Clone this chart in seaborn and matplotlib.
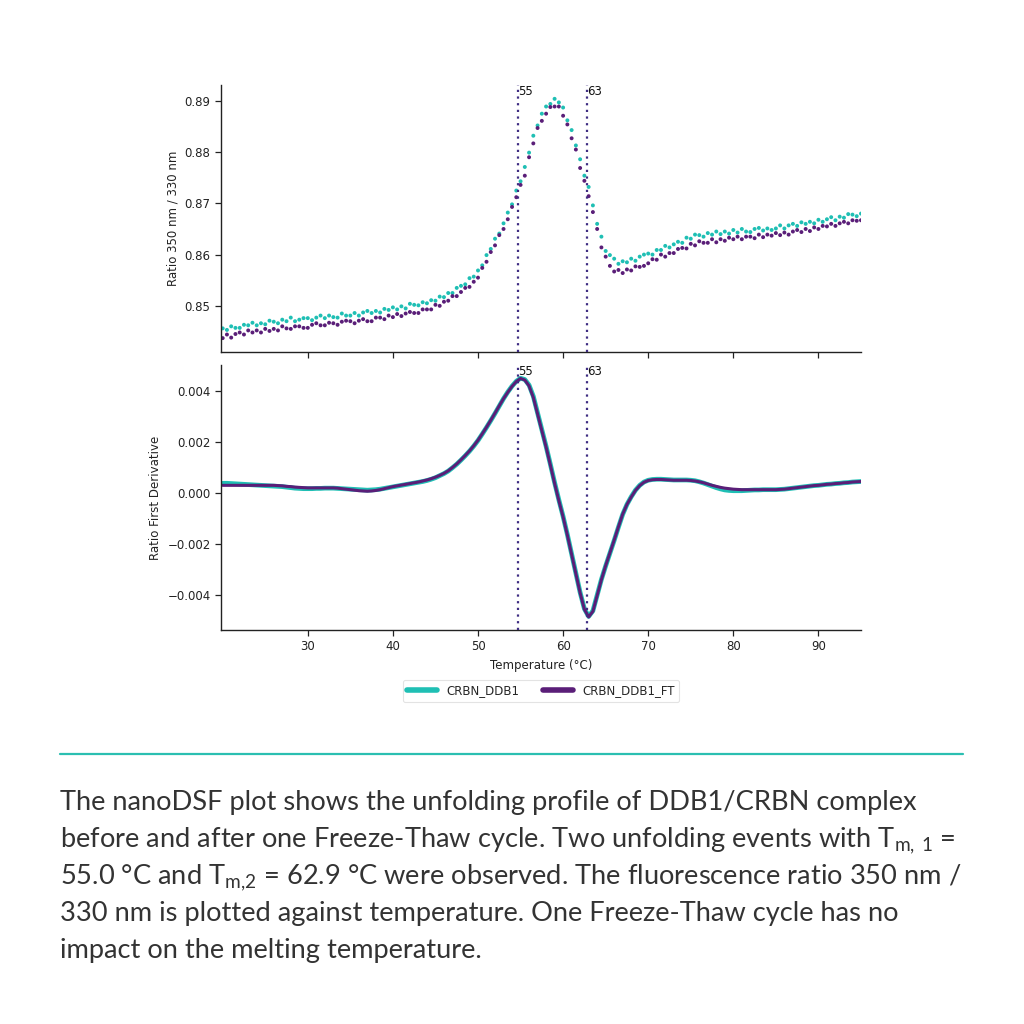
import numpy as np
import pandas as pd
import matplotlib
matplotlib.use("Agg")
import matplotlib.pyplot as plt
import seaborn as sns
from matplotlib.ticker import FuncFormatter

# ---------------- data ----------------
series_names = ["CRBN_DDB1", "CRBN_DDB1_FT"]
temperature = np.round(np.arange(20.0, 95.01, 0.5), 1)  # °C grid, 151 points

ratio_ddb1 = [
    0.8456, 0.8453, 0.8460, 0.8457, 0.8457, 0.8463, 0.8462, 0.8467, 0.8462, 0.8466,
    0.8464, 0.8471, 0.8469, 0.8466, 0.8473, 0.8470, 0.8477, 0.8470, 0.8473, 0.8476,
    0.8476, 0.8472, 0.8477, 0.8481, 0.8476, 0.8481, 0.8478, 0.8477, 0.8485, 0.8481,
    0.8481, 0.8486, 0.8481, 0.8487, 0.8490, 0.8486, 0.8490, 0.8487, 0.8494, 0.8492,
    0.8497, 0.8493, 0.8499, 0.8495, 0.8504, 0.8502, 0.8501, 0.8507, 0.8505, 0.8511,
    0.8510, 0.8518, 0.8517, 0.8525, 0.8525, 0.8535, 0.8539, 0.8542, 0.8554, 0.8557,
    0.8569, 0.8579, 0.8599, 0.8611, 0.8631, 0.8641, 0.8661, 0.8682, 0.8698, 0.8725,
    0.8743, 0.8771, 0.8799, 0.8832, 0.8852, 0.8875, 0.8889, 0.8894, 0.8904, 0.8897,
    0.8887, 0.8862, 0.8843, 0.8813, 0.8786, 0.8754, 0.8732, 0.8696, 0.8660, 0.8635,
    0.8607, 0.8599, 0.8592, 0.8582, 0.8587, 0.8585, 0.8592, 0.8588, 0.8596, 0.8600,
    0.8602, 0.8600, 0.8609, 0.8609, 0.8617, 0.8614, 0.8620, 0.8625, 0.8623, 0.8633,
    0.8631, 0.8639, 0.8638, 0.8635, 0.8642, 0.8639, 0.8645, 0.8640, 0.8645, 0.8641,
    0.8648, 0.8643, 0.8650, 0.8645, 0.8644, 0.8650, 0.8652, 0.8647, 0.8651, 0.8648,
    0.8651, 0.8657, 0.8651, 0.8657, 0.8660, 0.8656, 0.8663, 0.8660, 0.8664, 0.8661,
    0.8668, 0.8664, 0.8669, 0.8673, 0.8667, 0.8674, 0.8672, 0.8679, 0.8678, 0.8675,
    0.8680,
]

ratio_ddb1_ft = [
    0.8437, 0.8444, 0.8438, 0.8445, 0.8448, 0.8444, 0.8452, 0.8448, 0.8452, 0.8448,
    0.8455, 0.8451, 0.8455, 0.8452, 0.8460, 0.8456, 0.8455, 0.8460, 0.8460, 0.8457,
    0.8457, 0.8463, 0.8466, 0.8462, 0.8462, 0.8467, 0.8466, 0.8463, 0.8469, 0.8471,
    0.8470, 0.8466, 0.8471, 0.8474, 0.8470, 0.8470, 0.8477, 0.8477, 0.8474, 0.8481,
    0.8478, 0.8484, 0.8480, 0.8485, 0.8488, 0.8486, 0.8486, 0.8493, 0.8493, 0.8493,
    0.8502, 0.8500, 0.8508, 0.8510, 0.8519, 0.8519, 0.8527, 0.8535, 0.8537, 0.8547,
    0.8555, 0.8574, 0.8586, 0.8605, 0.8618, 0.8638, 0.8650, 0.8669, 0.8693, 0.8712,
    0.8736, 0.8754, 0.8790, 0.8817, 0.8847, 0.8861, 0.8875, 0.8888, 0.8889, 0.8889,
    0.8871, 0.8854, 0.8827, 0.8805, 0.8769, 0.8744, 0.8714, 0.8683, 0.8650, 0.8614,
    0.8596, 0.8578, 0.8567, 0.8570, 0.8564, 0.8571, 0.8569, 0.8577, 0.8576, 0.8578,
    0.8583, 0.8591, 0.8590, 0.8600, 0.8596, 0.8603, 0.8603, 0.8611, 0.8613, 0.8612,
    0.8621, 0.8618, 0.8626, 0.8623, 0.8623, 0.8630, 0.8624, 0.8630, 0.8627, 0.8633,
    0.8630, 0.8635, 0.8630, 0.8635, 0.8635, 0.8632, 0.8639, 0.8634, 0.8639, 0.8637,
    0.8642, 0.8638, 0.8643, 0.8639, 0.8645, 0.8648, 0.8644, 0.8650, 0.8646, 0.8653,
    0.8650, 0.8656, 0.8655, 0.8660, 0.8656, 0.8661, 0.8664, 0.8661, 0.8667, 0.8666,
    0.8667,
]

# first derivative, in units of 1e-4
deriv_ddb1_e4 = [
    3.8, 3.8, 3.7, 3.6, 3.5, 3.4, 3.3, 3.2, 3.1, 3.0,
    2.9, 2.8, 2.7, 2.6, 2.5, 2.3, 2.1, 1.9, 1.8, 1.7,
    1.7, 1.7, 1.8, 1.8, 1.9, 1.9, 1.9, 1.8, 1.7, 1.6,
    1.5, 1.4, 1.3, 1.2, 1.1, 1.2, 1.3, 1.5, 1.8, 2.1,
    2.4, 2.7, 3.0, 3.3, 3.6, 3.9, 4.2, 4.5, 4.9, 5.4,
    6.0, 6.8, 7.6, 8.6, 9.9, 11.3, 12.9, 14.6, 16.4, 18.4,
    20.6, 23.1, 25.7, 28.4, 31.2, 34.1, 37.0, 39.6, 41.9, 43.8,
    45.0, 44.5, 42.3, 37.9, 31.4, 24.9, 18.3, 11.3, 4.1, -2.7,
    -9.2, -16.3, -23.8, -31.4, -39.0, -45.4, -48.4, -46.2, -40.0, -33.9,
    -28.6, -23.6, -18.6, -13.4, -8.4, -4.5, -1.5, 1.1, 3.0, 4.3,
    5.0, 5.3, 5.4, 5.4, 5.3, 5.2, 5.1, 5.1, 5.1, 5.1,
    5.0, 4.8, 4.4, 3.9, 3.3, 2.7, 2.1, 1.6, 1.2, 1.0,
    0.9, 0.9, 0.9, 1.0, 1.1, 1.2, 1.2, 1.3, 1.3, 1.3,
    1.3, 1.4, 1.5, 1.7, 1.9, 2.1, 2.3, 2.5, 2.7, 2.9,
    3.0, 3.2, 3.4, 3.5, 3.7, 3.8, 4.0, 4.1, 4.3, 4.4,
    4.5,
]

deriv_ddb1_ft_e4 = [
    3.0, 3.0, 3.0, 3.0, 3.0, 3.0, 3.0, 3.0, 3.0, 3.0,
    3.0, 3.0, 3.0, 2.9, 2.8, 2.6, 2.5, 2.3, 2.2, 2.1,
    2.0, 2.0, 2.0, 2.0, 2.0, 2.0, 2.0, 1.9, 1.7, 1.5,
    1.3, 1.1, 0.9, 0.8, 0.7, 0.8, 1.0, 1.3, 1.7, 2.1,
    2.5, 2.8, 3.1, 3.4, 3.7, 4.0, 4.3, 4.7, 5.1, 5.6,
    6.2, 6.9, 7.7, 8.7, 10.0, 11.4, 13.0, 14.7, 16.5, 18.5,
    20.7, 23.2, 25.8, 28.5, 31.3, 34.2, 37.0, 39.5, 41.8, 43.7,
    44.9, 44.3, 42.0, 37.5, 31.0, 24.5, 18.0, 11.0, 3.8, -3.0,
    -9.4, -16.5, -24.0, -31.6, -39.2, -45.6, -48.6, -46.4, -40.2, -34.0,
    -28.5, -23.5, -18.5, -13.3, -8.3, -4.5, -1.6, 1.0, 2.9, 4.2,
    4.9, 5.2, 5.3, 5.3, 5.2, 5.1, 5.0, 5.0, 5.0, 5.0,
    4.9, 4.7, 4.4, 4.0, 3.5, 3.0, 2.6, 2.2, 1.9, 1.7,
    1.5, 1.4, 1.3, 1.3, 1.3, 1.3, 1.3, 1.3, 1.3, 1.3,
    1.3, 1.4, 1.5, 1.7, 1.9, 2.1, 2.3, 2.5, 2.7, 2.9,
    3.0, 3.2, 3.4, 3.5, 3.7, 3.8, 4.0, 4.1, 4.3, 4.4,
    4.5,
]

tm_values = [54.7, 62.75]
tm_labels = ["55", "63"]

caption_lines = [
    "The nanoDSF plot shows the unfolding profile of DDB1/CRBN complex",
    r"before and after one Freeze-Thaw cycle. Two unfolding events with T$_{\mathregular{m,\,1}}$ =",
    r"55.0 °C and T$_{\mathregular{m{,}2}}$ = 62.9 °C were observed. The fluorescence ratio 350 nm /",
    "330 nm is plotted against temperature. One Freeze-Thaw cycle has no",
    "impact on the melting temperature.",
]

# ---------------- styling ----------------
CYAN = "#1fbfb4"
PURPLE = "#5a1e78"
VLINE = "#3f2d82"

sns.set_theme(style="ticks")
plt.rcParams["font.family"] = ["DejaVu Sans"]
plt.rcParams["mathtext.fontset"] = "custom"
plt.rcParams["mathtext.rm"] = "Lato"

n = len(temperature)
df_ratio = pd.DataFrame({
    "Temperature": np.concatenate([temperature, temperature]),
    "Ratio": np.concatenate([ratio_ddb1, ratio_ddb1_ft]),
    "Sample": [series_names[0]] * n + [series_names[1]] * n,
})
df_deriv = pd.DataFrame({
    "Temperature": np.concatenate([temperature, temperature]),
    "Deriv": np.concatenate([np.array(deriv_ddb1_e4), np.array(deriv_ddb1_ft_e4)]) * 1e-4,
    "Sample": [series_names[0]] * n + [series_names[1]] * n,
})
palette = {series_names[0]: CYAN, series_names[1]: PURPLE}

fig = plt.figure(figsize=(10.24, 10.24), dpi=100)
ax1 = fig.add_axes([0.2158, 0.6563, 0.625, 0.2607])
ax2 = fig.add_axes([0.2158, 0.3848, 0.625, 0.2588], sharex=ax1)

sns.scatterplot(data=df_ratio, x="Temperature", y="Ratio", hue="Sample",
                palette=palette, s=8, linewidth=0, ax=ax1, legend=False)

sns.lineplot(data=df_deriv[df_deriv.Sample == series_names[0]], x="Temperature", y="Deriv",
             color=CYAN, linewidth=3.4, ax=ax2, label=series_names[0])
sns.lineplot(data=df_deriv[df_deriv.Sample == series_names[1]], x="Temperature", y="Deriv",
             color=PURPLE, linewidth=2.2, ax=ax2, label=series_names[1])
for ln in ax2.get_lines():
    ln.set_solid_joinstyle("round")

ax1.set_xlim(19.8, 95.0)
ax1.set_ylim(0.8410, 0.8931)
ax2.set_ylim(-0.00537, 0.00502)
ax1.set_yticks([0.85, 0.86, 0.87, 0.88, 0.89])
ax2.set_yticks([-0.004, -0.002, 0.0, 0.002, 0.004])
ax2.set_xticks([30, 40, 50, 60, 70, 80, 90])
ax1.yaxis.set_major_formatter(FuncFormatter(lambda v, p: f"{v:.2f}"))
ax2.yaxis.set_major_formatter(FuncFormatter(lambda v, p: f"{v:.3f}".replace("-", "\u2212")))
ax1.tick_params(axis="x", labelbottom=False)

for ax in (ax1, ax2):
    sns.despine(ax=ax)
    ax.tick_params(labelsize=8.5, length=4, width=0.9, colors="#222222")
    for sp in ("left", "bottom"):
        ax.spines[sp].set_color("#222222")
        ax.spines[sp].set_linewidth(1.0)
    ytop = ax.get_ylim()[1]
    for tm, lab in zip(tm_values, tm_labels):
        ax.axvline(tm, color=VLINE, linestyle=(0, (1, 2)), linewidth=1.6, zorder=5)
        ax.text(tm + 0.05, ytop, lab, fontsize=8.5, color="#111111",
                ha="left", va="top", zorder=6)

ax1.set_xlabel("")
ax1.set_ylabel("Ratio 350 nm / 330 nm", fontsize=8.5, color="#222222")
ax2.set_ylabel("Ratio First Derivative", fontsize=8.5, color="#222222")
ax2.set_xlabel("Temperature (°C)", fontsize=8.5, color="#222222")

leg = ax2.legend(loc="upper center", bbox_to_anchor=(0.5, -0.165), ncol=2,
                 fontsize=8.5, frameon=True, handlelength=2.5, columnspacing=2.0,
                 borderpad=0.4, handletextpad=0.8)
for h in leg.get_lines():
    h.set_linewidth(4.0)
leg.get_frame().set_edgecolor("#dddddd")
leg.get_frame().set_linewidth(0.8)

# separator line
fig.add_artist(plt.Line2D([60 / 1024, 963 / 1024], [1 - 754 / 1024, 1 - 754 / 1024],
                          color="#2bbfb1", linewidth=1.6))

# caption
for i, line in enumerate(caption_lines):
    yb = 810 + i * 37.0
    fig.text(60 / 1024, 1 - yb / 1024, line, fontsize=19.6, color="#333333",
             family=["Lato", "DejaVu Sans"], ha="left", va="baseline")

fig.savefig("out.png", dpi=100, facecolor="white")
